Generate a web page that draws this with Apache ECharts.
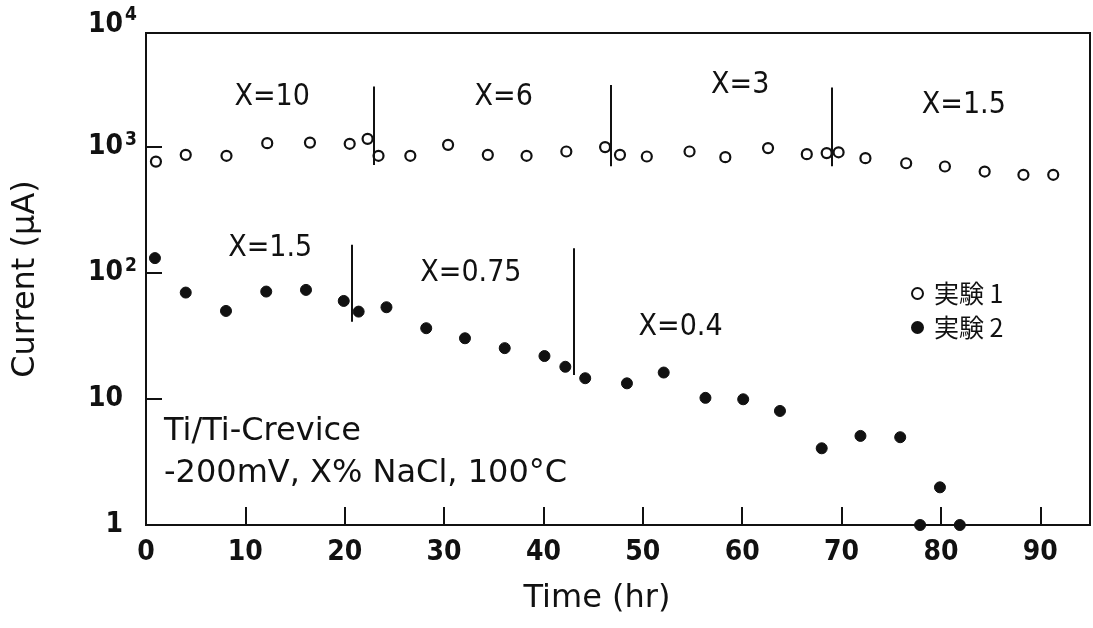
<!DOCTYPE html>
<html>
<head>
<meta charset="utf-8">
<script src="https://cdn.jsdelivr.net/npm/echarts@6/dist/echarts.min.js"></script>
<style>
  html, body { margin: 0; padding: 0; background: #fff; }
  #chart { width: 1093px; height: 628px; }
</style>
</head>
<body>
<div id="chart"></div>
<script>
// Experiment 1 (open circles): time (hr), current (uA)
const run1Time    = [1.0, 4.0, 8.1, 12.2, 16.5, 20.5, 22.3, 23.4, 26.6, 30.4, 34.4, 38.3, 42.3, 46.2, 47.7, 50.4, 54.7, 58.3, 62.6, 66.5, 68.5, 69.7, 72.4, 76.5, 80.4, 84.4, 88.3, 91.3];
const run1Current = [764, 864, 849, 1070, 1081, 1057, 1157, 849, 849, 1037, 864, 849, 918, 995, 864, 838, 918, 828, 977, 875, 892, 905, 813, 741, 698, 637, 600, 600];

// Experiment 2 (filled circles)
const run2Time    = [0.9, 4.0, 8.05, 12.1, 16.1, 19.9, 21.4, 24.2, 28.2, 32.1, 36.1, 40.1, 42.2, 44.2, 48.4, 52.1, 56.3, 60.1, 63.8, 68.0, 71.9, 75.9, 77.9, 79.9, 81.9];
const run2Current = [131, 69.8, 49.9, 71.1, 73.3, 59.9, 49.3, 53.4, 36.4, 30.3, 25.3, 21.9, 18.0, 14.6, 13.3, 16.2, 10.2, 9.94, 8.03, 4.06, 5.09, 4.97, 1.0, 1.99, 1.0];

// NaCl concentration changes: [time, upper current, lower current]
const run1Steps = [[22.9, 3010, 719], [46.8, 3100, 700], [69.0, 2950, 700]];
const run2Steps = [[20.7, 167, 41], [43.0, 157, 15.5]];

// Concentration labels: [time, current, text]
const run1Labels = [[12.7, 2494, 'X=10'], [36.0, 2494, 'X=6'], [59.8, 3105, 'X=3'], [82.3, 2154, 'X=1.5']];
const run2Labels = [[12.5, 156.5, 'X=1.5'], [32.7, 99, 'X=0.75'], [53.8, 36.9, 'X=0.4']];

const seriesNames = ['実験 1', '実験 2'];
const xTicks = [0, 10, 20, 30, 40, 50, 60, 70, 80, 90];
const yMin = 1, yMax = 8000;

const narrow = '"DejaVu Sans Condensed", "Liberation Sans", sans-serif';
const ink = '#111';

function pairs(xs, ys) { return xs.map((x, i) => [x, ys[i]]); }
function stepLines(steps) {
  return steps.map(s => [{ coord: [s[0], s[1]] }, { coord: [s[0], s[2]] }]);
}
function labelSeries(labels) {
  return {
    type: 'scatter',
    symbolSize: 0,
    silent: true,
    itemStyle: { color: ink, opacity: 1 },
    data: labels.map(l => ({ value: [l[0], l[1]], name: l[2] })),
    label: {
      show: true, position: 'inside', formatter: p => p.name,
      fontFamily: narrow, fontSize: 30, color: ink, opacity: 1,
      textBorderWidth: 0
    }
  };
}

const chart = echarts.init(document.getElementById('chart'), null, { renderer: 'canvas' });

chart.setOption({
  animation: false,
  backgroundColor: '#fff',
  grid: {
    left: 146, right: 3, top: 33, bottom: 103,
    show: true, borderColor: ink, borderWidth: 2, backgroundColor: 'transparent'
  },
  legend: {
    data: seriesNames,
    orient: 'vertical',
    left: 906, top: 276,
    itemWidth: 11, itemHeight: 11, itemGap: 9,
    icon: 'circle',
    textStyle: { fontFamily: 'Noto Sans CJK JP', fontSize: 25, color: ink, padding: [0, 0, 0, 6] }
  },
  xAxis: {
    type: 'value', min: 0, max: 95, interval: 10,
    name: 'Time (hr)', nameLocation: 'middle', nameGap: 58,
    nameTextStyle: { fontFamily: 'DejaVu Sans', fontSize: 32, color: ink, padding: [0, 42, 0, 0] },
    axisLine: { show: true, lineStyle: { color: ink, width: 2 } },
    axisTick: { show: true, inside: true, length: 18, lineStyle: { color: ink, width: 2 } },
    axisLabel: {
      showMaxLabel: false, margin: 14,
      fontFamily: narrow, fontSize: 28, fontWeight: 'bold', color: ink,
      formatter: v => xTicks.includes(v) ? String(v) : ''
    },
    splitLine: { show: false }
  },
  yAxis: {
    type: 'log', logBase: 10, min: yMin, max: yMax,
    name: 'Current (μA)', nameLocation: 'middle', nameGap: 104, nameRotate: 90,
    nameTextStyle: { fontFamily: 'DejaVu Sans', fontSize: 32, color: ink },
    axisLine: { show: true, lineStyle: { color: ink, width: 2 } },
    axisTick: { show: true, inside: true, length: 16, lineStyle: { color: ink, width: 2 } },
    minorTick: { show: false },
    axisLabel: {
      margin: 9, showMaxLabel: true,
      formatter: v => {
        if (v >= 5000) return '{top|10}{tops|4}';
        const p = Math.round(Math.log10(v));
        if (p === 0) return '{n|1}{gap|}';
        if (p === 1) return '{n|10}{gap|}';
        return '{n|10}{s|' + p + '}';
      },
      rich: {
        n: { fontFamily: narrow, fontSize: 28, fontWeight: 'bold', color: ink },
        s: { fontFamily: narrow, fontSize: 19, fontWeight: 'bold', color: ink, verticalAlign: 'bottom', padding: [0, 0, 14, 2] },
        gap: { width: 14 },
        top: { fontFamily: narrow, fontSize: 28, fontWeight: 'bold', color: ink, padding: [0, 0, 16, 0] },
        tops: { fontFamily: narrow, fontSize: 19, fontWeight: 'bold', color: ink, padding: [0, 0, 36, 2] }
      }
    },
    splitLine: { show: false }
  },
  series: [
    {
      name: seriesNames[0],
      type: 'scatter',
      symbol: 'circle', symbolSize: 10,
      itemStyle: { color: '#fff', borderColor: ink, borderWidth: 2.2, opacity: 1 },
      data: pairs(run1Time, run1Current),
      markLine: {
        silent: true, symbol: 'none', label: { show: false },
        lineStyle: { color: ink, width: 2, type: 'solid' },
        data: stepLines(run1Steps)
      },
      z: 3
    },
    {
      name: seriesNames[1],
      type: 'scatter',
      symbol: 'circle', symbolSize: 11,
      itemStyle: { color: ink, borderColor: ink, borderWidth: 1, opacity: 1 },
      data: pairs(run2Time, run2Current),
      markLine: {
        silent: true, symbol: 'none', label: { show: false },
        lineStyle: { color: ink, width: 2, type: 'solid' },
        data: stepLines(run2Steps)
      },
      clip: false,
      z: 3
    },
    labelSeries(run1Labels),
    labelSeries(run2Labels)
  ],
  graphic: [
    {
      type: 'text', left: 164, top: 416,
      style: { text: 'Ti/Ti-Crevice', fontFamily: 'DejaVu Sans', fontSize: 32, fill: ink }
    },
    {
      type: 'text', left: 164, top: 458,
      style: { text: '-200mV, X% NaCl, 100°C', fontFamily: 'DejaVu Sans', fontSize: 32, fill: ink }
    }
  ]
});
</script>
</body>
</html>
